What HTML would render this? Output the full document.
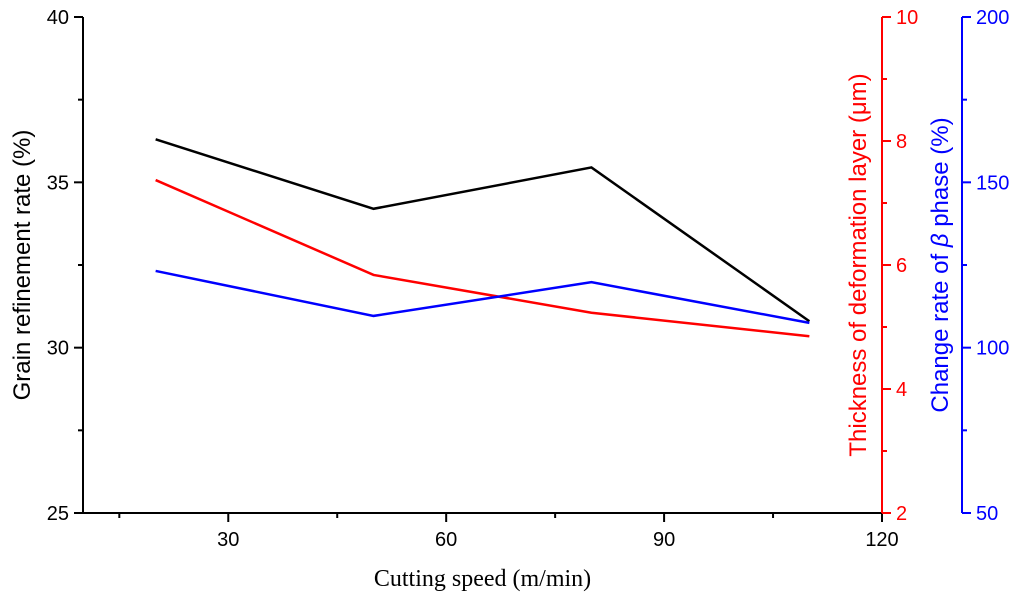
<!DOCTYPE html>
<html><head><meta charset="utf-8"><style>
html,body{margin:0;padding:0;background:#fff}
svg{display:block;font-family:"Liberation Sans",sans-serif}
</style></head><body>
<svg id="chart" width="1024" height="606" viewBox="0 0 1024 606"></svg>
<script>
const speeds=[20,50,80,110];
const grain=[36.3,34.2,35.45,30.8];
const thickness=[7.37,5.84,5.23,4.85];
const betaChange=[123.2,109.6,119.8,107.5];
const xTicks=[30,60,90,120];
const leftTicks=[25,30,35,40];
const redTicks=[2,4,6,8,10];
const blueTicks=[50,100,150,200];

const L=83,R=882,T=17,B=513,BX=962;
const xs=v=>L+(v-10)/(120-10)*(R-L);
const yL=v=>B-(v-25)/15*(B-T);
const yR=v=>B-(v-2)/8*(B-T);
const yB=v=>B-(v-50)/150*(B-T);
const svg=document.getElementById('chart');
const NS='http://www.w3.org/2000/svg';
function mk(tag,attrs,parent){const e=document.createElementNS(NS,tag);for(const k in attrs)e.setAttribute(k,attrs[k]);(parent||svg).appendChild(e);return e;}
function line(x1,y1,x2,y2,c,g){return mk('line',{x1,y1,x2,y2,stroke:c,'stroke-width':2},g);}
function txt(x,y,s,c,anchor,size,g,extra){const t=mk('text',Object.assign({x,y,fill:c,'text-anchor':anchor,'font-size':size},extra||{}),g);t.textContent=s;return t;}

const gx=mk('g',{});


line(L,B,R,B,'#000',gx);
for(let v=15;v<=120;v+=15){const big=v%30===0;line(xs(v),B,xs(v),B+(big?9:5),'#000',gx);}
xTicks.forEach(v=>txt(xs(v),B+33,String(v),'#000','middle',20,gx));
const xt=txt((L+R)/2,586,'Cutting speed (m/min)','#000','middle',24,gx,{'font-family':'Liberation Serif, serif'});



const gl=mk('g',{});


line(L,T,L,B,'#000',gl);
for(let v=25;v<=40;v+=2.5){const big=v%5===0;line(L-(big?9:5),yL(v),L,yL(v),'#000',gl);}
leftTicks.forEach(v=>txt(L-14,yL(v)+7,String(v),'#000','end',20,gl));
const lt=txt(0,0,'Grain refinement rate (%)','#000','middle',24,gl,{transform:`translate(30,${(T+B)/2}) rotate(-90)`});



const gr=mk('g',{});


line(R,T,R,B,'#f00',gr);
for(let v=2;v<=10;v+=1){const big=v%2===0;line(R,yR(v),R+(big?9:5),yR(v),'#f00',gr);}
redTicks.forEach(v=>txt(R+14,yR(v)+7,String(v),'#f00','start',20,gr));
const rt=txt(0,0,'Thickness of deformation layer (μm)','#f00','middle',24,gr,{transform:`translate(866,${(T+B)/2}) rotate(-90)`});



const gb=mk('g',{});


line(BX,T,BX,B,'#00f',gb);
for(let v=50;v<=200;v+=25){const big=v%50===0;line(BX,yB(v),BX+(big?9:5),yB(v),'#00f',gb);}
blueTicks.forEach(v=>txt(BX+14,yB(v)+7,String(v),'#00f','start',20,gb));
const bt=mk('text',{fill:'#00f','text-anchor':'middle','font-size':24,transform:`translate(948,${(T+B)/2}) rotate(-90)`},gb);
bt.innerHTML='Change rate of <tspan font-style="italic">β</tspan> phase (%)';



function series(vals,yf,c,name){
  const p=mk('polyline',{points:speeds.map((s,i)=>xs(s)+','+yf(vals[i])).join(' '),fill:'none',stroke:c,'stroke-width':2.5});
  
  
}
series(grain,yL,'#000','grain-refinement-line');
series(thickness,yR,'#f00','thickness-line');
series(betaChange,yB,'#00f','beta-change-line');
</script>
</body></html>
